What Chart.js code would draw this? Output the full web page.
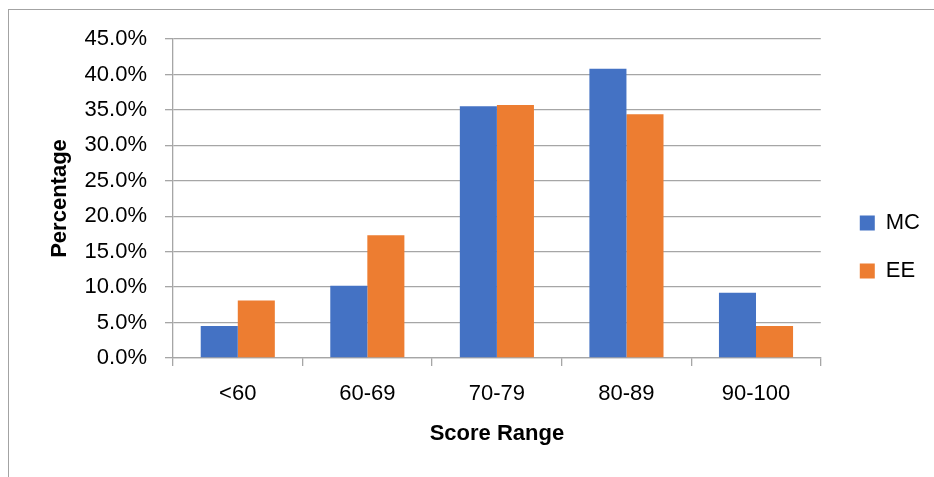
<!DOCTYPE html>
<html>
<head>
<meta charset="utf-8">
<script src="https://cdn.jsdelivr.net/npm/chart.js@4"></script>
<style>
  body { margin: 0; background: #fff; }
  #frame {
    position: absolute; left: 8px; top: 9px; width: 1000px; height: 1000px;
    border-left: 1px solid #a3a3a3; border-top: 1px solid #a3a3a3;
  }
  #wrap { position: absolute; left: 0; top: 0; width: 934px; height: 477px; }
</style>
</head>
<body>
<div id="frame"></div>
<div id="wrap"><canvas id="chart" width="934" height="477"></canvas></div>
<script>
// score ranges and percentage of students in each
const categories = ['<60', '60-69', '70-79', '80-89', '90-100'];
const mcValues = [4.5, 10.2, 35.5, 40.8, 9.2];
const eeValues = [8.1, 17.3, 35.7, 34.4, 4.5];
const yTicks = { min: 0, max: 45, step: 5 };

const FONT = 'Liberation Sans';
const GRID = '#a6a6a6';

// move the legend a bit right and up, like the excel one
const legendNudge = {
  id: 'legendNudge',
  afterLayout(chart) {
    const lg = chart.legend;
    lg.left += 13; lg.right += 13;
    lg.top -= 11; lg.bottom -= 11;
  }
};

new Chart(document.getElementById('chart').getContext('2d'), {
  type: 'bar',
  data: {
    labels: categories,
    datasets: [
      { label: 'MC', data: mcValues, backgroundColor: '#4472C4' },
      { label: 'EE', data: eeValues, backgroundColor: '#ED7D31' }
    ]
  },
  options: {
    responsive: false,
    animation: false,
    layout: { padding: { top: 39, right: 17, bottom: 0, left: 0 } },
    datasets: { bar: { categoryPercentage: 0.572, barPercentage: 1 } },
    plugins: {
      tooltip: { enabled: false },
      legend: {
        position: 'right',
        labels: {
          boxWidth: 15, boxHeight: 15, padding: 26, color: '#000',
          font: { family: FONT, size: 22 }
        }
      }
    },
    scales: {
      x: {
        afterFit(scale) { scale.height = 119; },
        grid: { offset: true, drawOnChartArea: false, color: GRID, lineWidth: 1.3, tickLength: 8 },
        border: { color: GRID, width: 1.3 },
        ticks: { color: '#000', padding: 15, font: { family: FONT, size: 22 } },
        title: {
          display: true, text: 'Score Range', color: '#000',
          padding: { top: 0, bottom: 30 },
          font: { family: FONT, size: 22, weight: 'bold' }
        }
      },
      y: {
        min: yTicks.min, max: yTicks.max,
        afterFit(scale) { scale.width = 173; },
        grid: { color: GRID, lineWidth: 1.3, tickLength: 8 },
        border: { color: GRID, width: 1.3 },
        ticks: {
          stepSize: yTicks.step, color: '#000', padding: 18,
          font: { family: FONT, size: 22 },
          callback: v => v.toFixed(1) + '%'
        },
        title: {
          display: true, text: 'Percentage', color: '#000',
          padding: { top: 47, bottom: 0 },
          font: { family: FONT, size: 22, weight: 'bold' }
        }
      }
    }
  },
  plugins: [legendNudge]
});
</script>
</body>
</html>
